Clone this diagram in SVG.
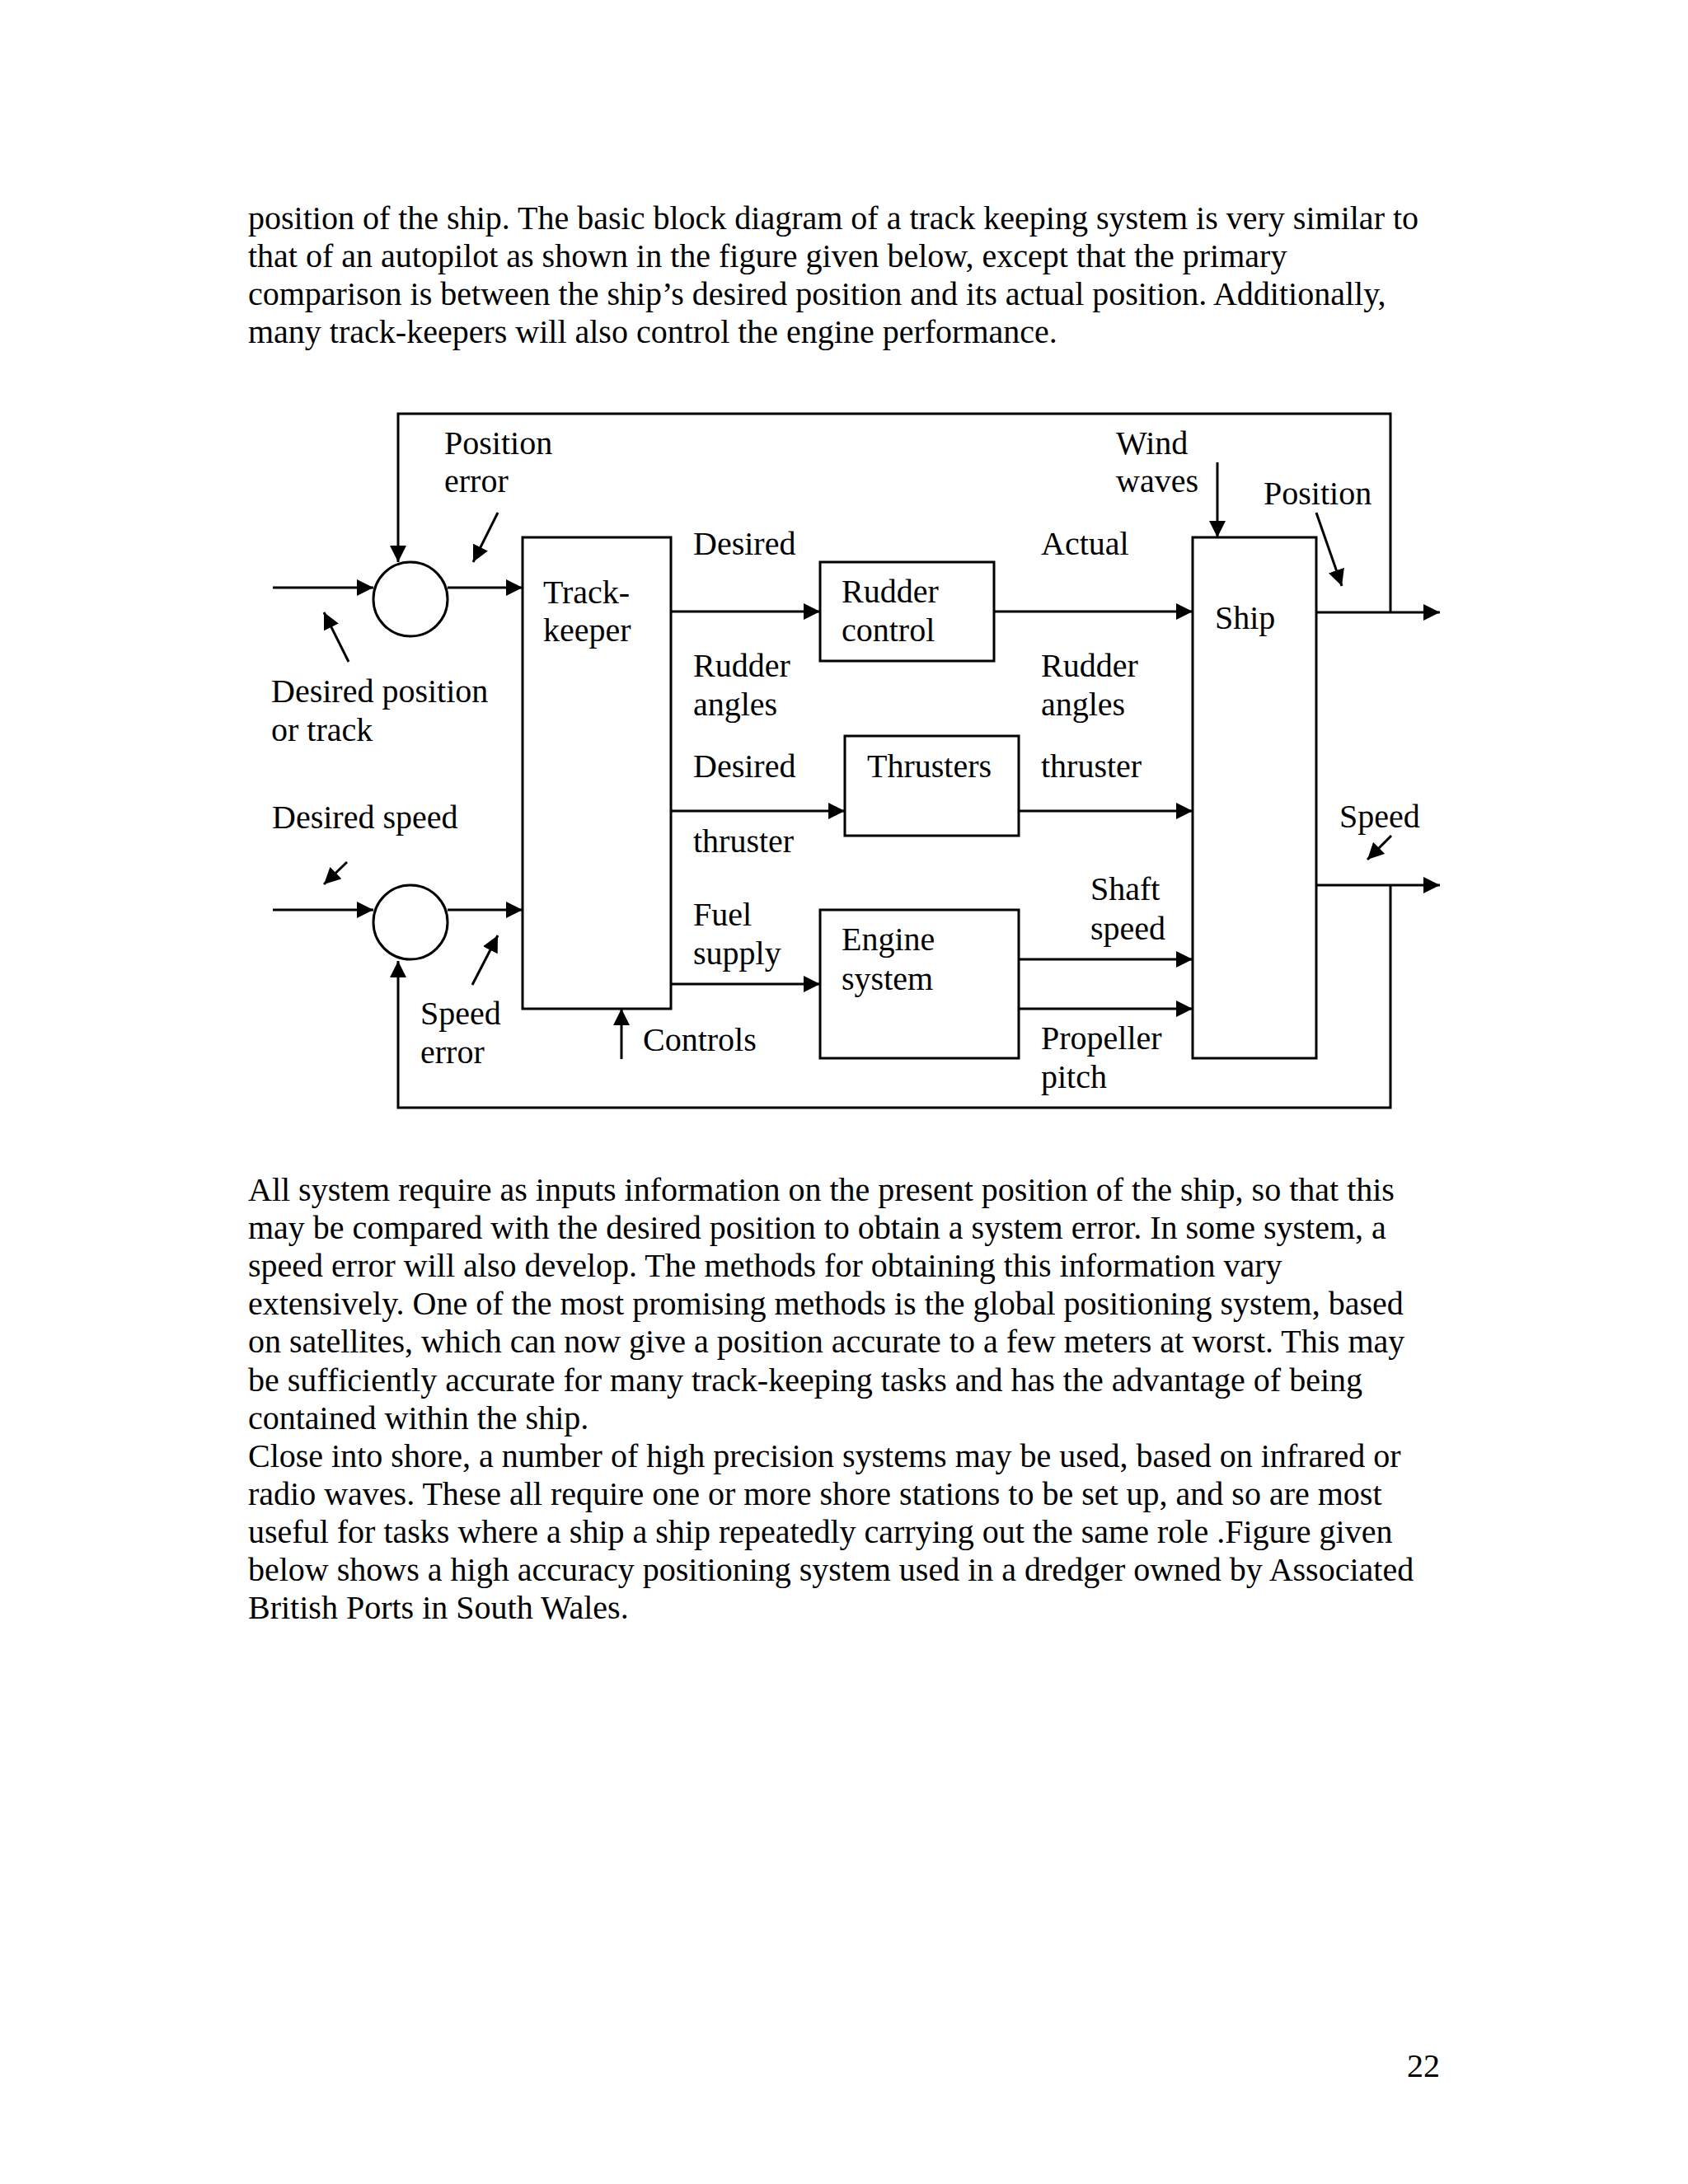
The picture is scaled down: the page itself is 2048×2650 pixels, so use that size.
<svg xmlns="http://www.w3.org/2000/svg" width="2048" height="2650" viewBox="0 0 2048 2650">
<defs>
<marker id="ah" markerUnits="userSpaceOnUse" markerWidth="20" markerHeight="20" refX="20" refY="10" orient="auto">
<path d="M0,0 L20,10 L0,20 z" fill="#000"/>
</marker>
</defs>
<style>
text{font-family:"Liberation Serif","Times New Roman",serif;font-size:40px;fill:#000}
.box{fill:none;stroke:#000;stroke-width:3}
.c{fill:none;stroke:#000;stroke-width:3}
.a{marker-end:url(#ah)}
</style>
<rect x="0" y="0" width="2048" height="2650" fill="#fff"/>

<g id="body-text">
<text x="301" y="278">position of the ship. The basic block diagram of a track keeping system is very similar to</text>
<text x="301" y="324">that of an autopilot as shown in the figure given below, except that the primary</text>
<text x="301" y="370">comparison is between the ship’s desired position and its actual position. Additionally,</text>
<text x="301" y="416">many track-keepers will also control the engine performance.</text>
<text x="301" y="1457">All system require as inputs information on the present position of the ship, so that this</text>
<text x="301" y="1503">may be compared with the desired position to obtain a system error. In some system, a</text>
<text x="301" y="1549">speed error will also develop. The methods for obtaining this information vary</text>
<text x="301" y="1595">extensively. One of the most promising methods is the global positioning system, based</text>
<text x="301" y="1641">on satellites, which can now give a position accurate to a few meters at worst. This may</text>
<text x="301" y="1688">be sufficiently accurate for many track-keeping tasks and has the advantage of being</text>
<text x="301" y="1734">contained within the ship.</text>
<text x="301" y="1780">Close into shore, a number of high precision systems may be used, based on infrared or</text>
<text x="301" y="1826">radio waves. These all require one or more shore stations to be set up, and so are most</text>
<text x="301" y="1872">useful for tasks where a ship a ship repeatedly carrying out the same role .Figure given</text>
<text x="301" y="1918">below shows a high accuracy positioning system used in a dredger owned by Associated</text>
<text x="301" y="1964">British Ports in South Wales.</text>
<text x="1707" y="2520">22</text>
</g>

<g id="connectors">
<path class="c a" d="M1597,743 H1747"/>
<path class="c a" d="M1687,743 V502 H483 V682"/>
<path class="c a" d="M1597,1074 H1747"/>
<path class="c a" d="M1687,1074 V1344 H483 V1166"/>
<path class="c a" d="M331,713 H453"/>
<path class="c a" d="M543,713 H634"/>
<path class="c a" d="M331,1104 H453"/>
<path class="c a" d="M543,1104 H634"/>
<path class="c a" d="M814,742 H995"/>
<path class="c a" d="M1206,742 H1447"/>
<path class="c a" d="M814,984 H1025"/>
<path class="c a" d="M1236,984 H1447"/>
<path class="c a" d="M814,1194 H995"/>
<path class="c a" d="M1236,1164 H1447"/>
<path class="c a" d="M1236,1224 H1447"/>
<path class="c a" d="M754,1285 V1224"/>
<path class="c a" d="M1477,561 V652"/>
<path class="c a" d="M604,622 L574,682"/>
<path class="c a" d="M423,803 L393,743"/>
<path class="c a" d="M421,1046 L393,1073"/>
<path class="c a" d="M573,1195 L604,1135"/>
<path class="c a" d="M1597,622 L1628,711"/>
<path class="c a" d="M1688,1014 L1659,1043"/>
</g>

<g id="sum-position">
<circle class="box" cx="498" cy="727" r="45"/>
</g>
<g id="sum-speed">
<circle class="box" cx="498" cy="1119" r="45"/>
</g>

<g id="track-keeper">
<rect class="box" x="634" y="652" width="180" height="572"/>
<text x="659" y="732">Track-</text>
<text x="659" y="778">keeper</text>
</g>

<g id="rudder-control">
<rect class="box" x="995" y="682" width="211" height="120"/>
<text x="1021" y="731">Rudder</text>
<text x="1021" y="778">control</text>
</g>

<g id="thrusters">
<rect class="box" x="1025" y="893" width="211" height="121"/>
<text x="1052" y="943">Thrusters</text>
</g>

<g id="engine-system">
<rect class="box" x="995" y="1104" width="241" height="180"/>
<text x="1021" y="1153">Engine</text>
<text x="1021" y="1201">system</text>
</g>

<g id="ship">
<rect class="box" x="1447" y="652" width="150" height="632"/>
<text x="1474" y="763">Ship</text>
</g>

<g id="labels">
<text x="539" y="551">Position</text>
<text x="539" y="597">error</text>
<text x="329" y="852">Desired position</text>
<text x="329" y="899">or track</text>
<text x="330" y="1005">Desired speed</text>
<text x="510" y="1243">Speed</text>
<text x="510" y="1290">error</text>
<text x="780" y="1275">Controls</text>
<text x="841" y="673">Desired</text>
<text x="841" y="821">Rudder</text>
<text x="841" y="868">angles</text>
<text x="841" y="943">Desired</text>
<text x="841" y="1034">thruster</text>
<text x="841" y="1123">Fuel</text>
<text x="841" y="1170">supply</text>
<text x="1263" y="673">Actual</text>
<text x="1263" y="821">Rudder</text>
<text x="1263" y="868">angles</text>
<text x="1263" y="943">thruster</text>
<text x="1323" y="1092">Shaft</text>
<text x="1323" y="1140">speed</text>
<text x="1263" y="1273">Propeller</text>
<text x="1263" y="1320">pitch</text>
<text x="1354" y="551">Wind</text>
<text x="1354" y="597">waves</text>
<text x="1533" y="612">Position</text>
<text x="1625" y="1004">Speed</text>
</g>
</svg>
